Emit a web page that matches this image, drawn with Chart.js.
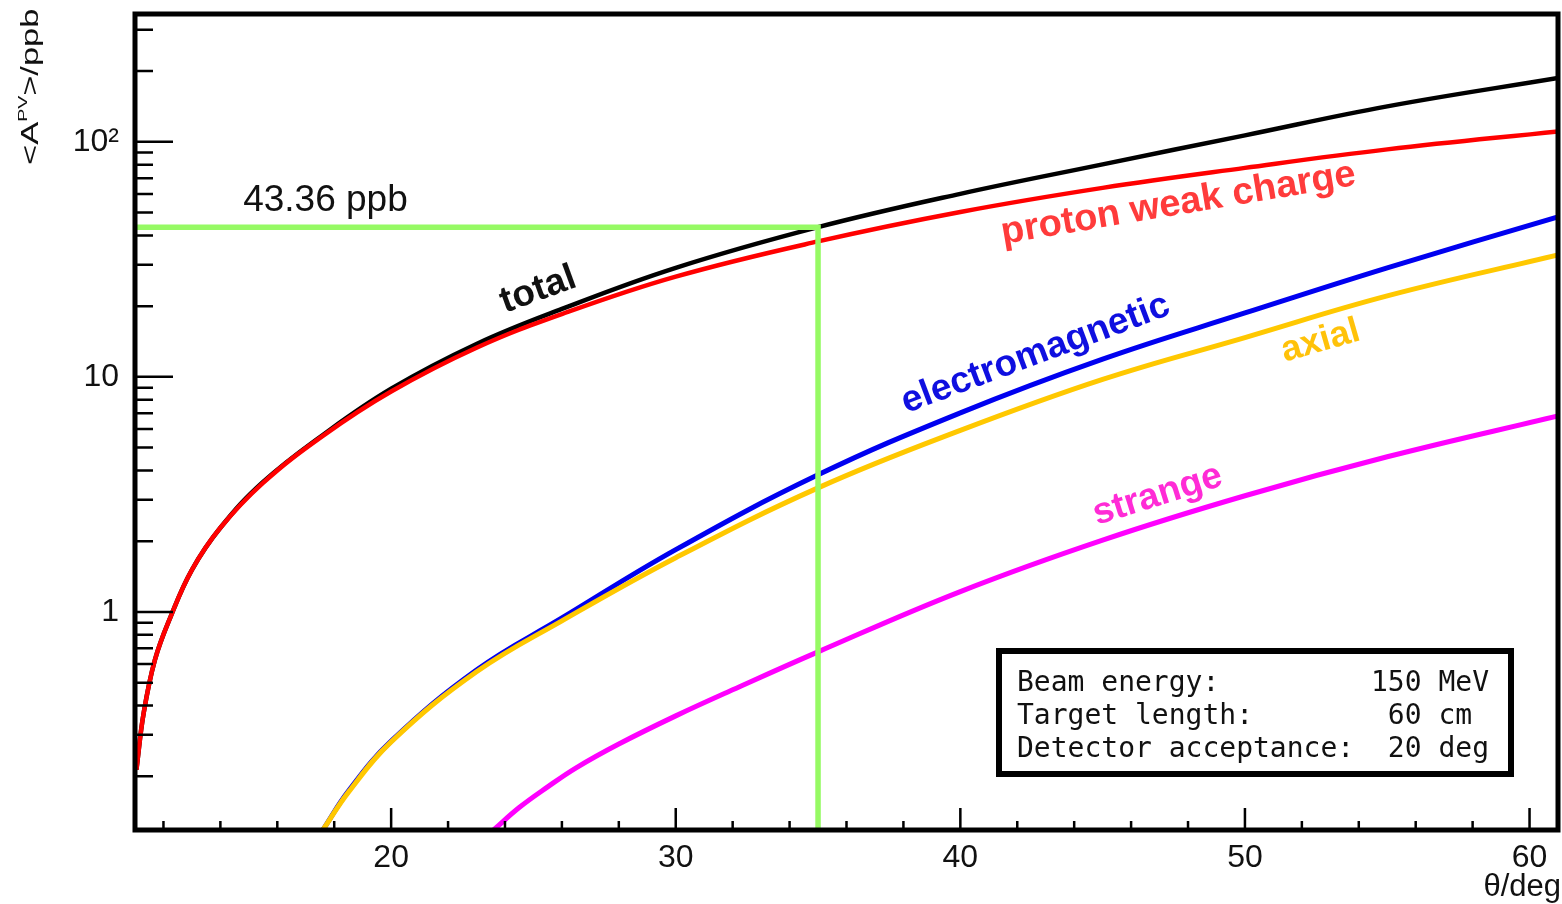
<!DOCTYPE html>
<html>
<head>
<meta charset="utf-8">
<title>Parity-violating asymmetry vs scattering angle</title>
<script src="https://cdn.jsdelivr.net/npm/chart.js@4.4.1/dist/chart.umd.min.js"></script>
<style>
  html, body { margin: 0; padding: 0; background: #fff; }
  #asymChart { display: block; }
</style>
</head>
<body>
<canvas id="asymChart" width="1562" height="904"></canvas>
<script>
// Scattering angle theta (deg)
const angles = [11.05, 11.3, 11.7, 12.25, 13, 14, 15.5, 17.6, 18.5, 20, 23, 23.6, 24.5, 25.5, 26, 26.5, 28,
  30, 32, 35, 40, 45, 50, 55, 61];

// <A_PV> in ppb for each contribution (null = no point at that angle)
const total = [0.213, 0.368, 0.625, 0.953, 1.51, 2.28, 3.57, 5.66, null, 8.9, 13.8, null, null, null, 19.45, null, null,
  29.1, null, 43.36, 60.1, 80.2, 106.6, 141.6, 187];
const protonWeakCharge = [0.213, 0.368, 0.625, 0.953, 1.51, 2.28, 3.54, 5.61, null, 8.66, 13.3, null, null, null, 18.5, null, null,
  26.7, null, 37.7, 50.3, 63.7, 77.5, 92.9, 110.8];
const electromagnetic = [null, null, null, null, null, null, null, 0.118, 0.173, 0.282, 0.566, null, null, null, 0.942, null, null,
  1.84, null, 3.83, 7.03, 11.9, 18.7, 29.1, 48.0];
const axial = [null, null, null, null, null, null, null, 0.118, 0.171, 0.28, 0.556, null, null, null, 0.916, null, null,
  1.7, null, 3.37, 5.92, 9.76, 14.7, 22.1, 33.0];
const strange = [null, null, null, null, null, null, null, null, null, null, null, 0.118, 0.147, 0.18, null, 0.217, 0.274,
  0.361, 0.466, 0.676, 1.22, 2.02, 3.12, 4.57, 6.82];

// Axis ranges and ticks
const xMin = 11;
const xMax = 61;
const yMin = 0.118;
const yMax = 350;
const xTicks = [12, 14, 16, 18, 20, 22, 24, 26, 28, 30, 32, 34, 36, 38, 40, 42, 44, 46, 48, 50, 52, 54, 56, 58, 60];
const xLabelTicks = [20, 30, 40, 50, 60];
const yTicks = [0.2, 0.3, 0.4, 0.5, 0.6, 0.7, 0.8, 0.9, 1, 2, 3, 4, 5, 6, 7, 8, 9, 10,
  20, 30, 40, 50, 60, 70, 80, 90, 100, 200, 300];
const yLabelTicks = [1, 10, 100];
const yLabelTexts = ["1", "10", "10\u00B2"];

// Working point: 35 deg gives 43.36 ppb
const markAngle = 35;
const markValue = 43.36;

const infoLines = [
  "Beam energy:         150 MeV",
  "Target length:        60 cm",
  "Detector acceptance:  20 deg",
];

const curveLabels = [
  { text: "total", color: "#111111", at: [24.0, 18.7], angle: -20, size: 37 },
  { text: "proton weak charge", color: "#ff3b3b", at: [41.5, 36.8], angle: -9.5, size: 38 },
  { text: "electromagnetic", color: "#0f0fe0", at: [38.1, 7.0], angle: -20.5, size: 37 },
  { text: "axial", color: "#ffc20a", at: [51.4, 11.6], angle: -16, size: 36 },
  { text: "strange", color: "#ff2bd6", at: [44.8, 2.34], angle: -17.5, size: 37 },
];

const points = (ys) => angles.map((a, i) => ({ x: a, y: ys[i] })).filter((p) => p.y !== null);

const curve = (label, ys, color, width) => ({
  label,
  data: points(ys),
  borderColor: color,
  borderWidth: width,
  pointRadius: 0,
  tension: 0.4,
  fill: false,
});

// Inner ticks, frame, annotations
const decorations = {
  id: "decorations",
  afterDatasetsDraw(chart) {
    const { ctx, chartArea: a, scales: { x, y } } = chart;
    ctx.save();

    ctx.strokeStyle = "#000";
    ctx.lineWidth = 2.5;
    ctx.beginPath();
    xTicks.forEach((v) => {
      const px = x.getPixelForValue(v);
      const len = xLabelTicks.includes(v) ? 22 : 9;
      ctx.moveTo(px, a.bottom);
      ctx.lineTo(px, a.bottom - len);
    });
    yTicks.forEach((v) => {
      const py = y.getPixelForValue(v);
      const len = yLabelTicks.includes(v) ? 38 : 18;
      ctx.moveTo(a.left, py);
      ctx.lineTo(a.left + len, py);
    });
    ctx.stroke();

    ctx.lineWidth = 5;
    ctx.strokeRect(a.left, a.top, a.right - a.left, a.bottom - a.top);

    // curve names
    ctx.textAlign = "left";
    ctx.textBaseline = "alphabetic";
    curveLabels.forEach((l) => {
      ctx.save();
      ctx.translate(x.getPixelForValue(l.at[0]), y.getPixelForValue(l.at[1]));
      ctx.rotate((l.angle * Math.PI) / 180);
      ctx.font = "bold " + l.size + "px 'Liberation Sans', Arial, sans-serif";
      ctx.fillStyle = l.color;
      ctx.fillText(l.text, 0, 0);
      ctx.restore();
    });

    ctx.fillStyle = "#111";
    ctx.font = "37px 'Liberation Sans', Arial, sans-serif";
    ctx.fillText(markValue + " ppb", x.getPixelForValue(14.8), y.getPixelForValue(51));

    // settings box
    const box = { left: 996, top: 648, width: 518, height: 129 };
    ctx.fillStyle = "#fff";
    ctx.fillRect(box.left, box.top, box.width, box.height);
    ctx.lineWidth = 6;
    ctx.strokeRect(box.left + 3, box.top + 3, box.width - 6, box.height - 6);
    ctx.fillStyle = "#111";
    ctx.font = "28px 'DejaVu Sans Mono', monospace";
    infoLines.forEach((line, i) => ctx.fillText(line, box.left + 21, box.top + 43 + i * 33));

    // x title
    ctx.textAlign = "right";
    ctx.font = "31px 'Liberation Sans', Arial, sans-serif";
    ctx.fillText("\u03B8/deg", a.right + 3, 896);

    // y title, stretched along its length
    ctx.save();
    ctx.translate(38, 165);
    ctx.rotate(-Math.PI / 2);
    ctx.scale(1.5, 1);
    ctx.textAlign = "left";
    ctx.font = "23px 'Liberation Sans', Arial, sans-serif";
    let cx = 0;
    ctx.fillText("<A", cx, 0);
    cx += ctx.measureText("<A").width;
    ctx.font = "13px 'Liberation Sans', Arial, sans-serif";
    ctx.fillText("PV", cx, -11);
    cx += ctx.measureText("PV").width;
    ctx.font = "23px 'Liberation Sans', Arial, sans-serif";
    ctx.fillText(">/ppb", cx, 0);
    ctx.restore();

    ctx.restore();
  },
};

new Chart(document.getElementById("asymChart"), {
  type: "line",
  data: {
    datasets: [
      {
        label: "working point",
        data: [
          { x: xMin, y: markValue },
          { x: markAngle, y: markValue },
          { x: markAngle, y: yMin },
        ],
        borderColor: "#96fa64",
        borderWidth: 5.5,
        pointRadius: 0,
        tension: 0,
        borderJoinStyle: "miter",
        fill: false,
      },
      curve("axial", axial, "#ffc800", 5),
      curve("electromagnetic", electromagnetic, "#0000f0", 5),
      curve("strange", strange, "#ff00ff", 5),
      curve("proton weak charge", protonWeakCharge, "#ff0000", 4.5),
      curve("total", total, "#000000", 4.5),
    ],
  },
  options: {
    responsive: false,
    animation: false,
    devicePixelRatio: 1,
    layout: { padding: { top: 14, right: 4, left: 0, bottom: 0 } },
    plugins: { legend: { display: false }, tooltip: { enabled: false } },
    scales: {
      x: {
        type: "linear",
        min: xMin,
        max: xMax,
        afterBuildTicks: (scale) => {
          scale.ticks = xTicks.map((v) => ({ value: v }));
        },
        afterFit: (scale) => {
          scale.height = 74;
          scale.paddingLeft = 0;
          scale.paddingRight = 0;
        },
        grid: { display: false, drawTicks: false },
        border: { display: false },
        ticks: {
          autoSkip: false,
          maxRotation: 0,
          padding: 9,
          color: "#111",
          font: { family: "'Liberation Sans', Arial, sans-serif", size: 32 },
          callback: (v) => (xLabelTicks.includes(v) ? String(v) : ""),
        },
      },
      y: {
        type: "logarithmic",
        min: yMin,
        max: yMax,
        afterBuildTicks: (scale) => {
          scale.ticks = yTicks.map((v) => ({ value: v }));
        },
        afterFit: (scale) => {
          scale.width = 135;
          scale.paddingTop = 0;
          scale.paddingBottom = 0;
        },
        grid: { display: false, drawTicks: false },
        border: { display: false },
        ticks: {
          autoSkip: false,
          padding: 16,
          color: "#111",
          font: { family: "'Liberation Sans', Arial, sans-serif", size: 32 },
          callback: (v) => {
            const i = yLabelTicks.indexOf(v);
            return i >= 0 ? yLabelTexts[i] : "";
          },
        },
      },
    },
  },
  plugins: [decorations],
});
</script>
</body>
</html>
